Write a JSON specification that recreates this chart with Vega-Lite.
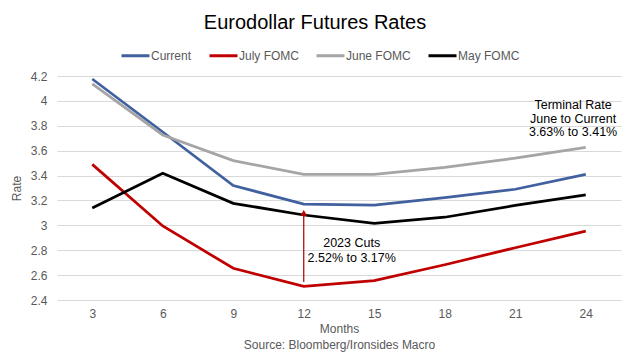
{
  "$schema": "https://vega.github.io/schema/vega-lite/v6.json",
  "width": 564,
  "height": 224,
  "autosize": "none",
  "padding": {"left": 57, "top": 76, "right": 8, "bottom": 62},
  "background": "white",
  "config": {"font": "Liberation Sans", "view": {"stroke": null}},
  "title": {"text": "Eurodollar Futures Rates", "fontSize": 20, "fontWeight": "normal", "color": "#000000", "anchor": "middle", "dx": -24, "offset": 7},
  "datasets": {
    "rates": [
      {"month": 3, "series": "Current", "rate": 4.176},
      {"month": 6, "series": "Current", "rate": 3.75},
      {"month": 9, "series": "Current", "rate": 3.32},
      {"month": 12, "series": "Current", "rate": 3.17},
      {"month": 15, "series": "Current", "rate": 3.163},
      {"month": 18, "series": "Current", "rate": 3.222},
      {"month": 21, "series": "Current", "rate": 3.29},
      {"month": 24, "series": "Current", "rate": 3.41},
      {"month": 3, "series": "July FOMC", "rate": 3.49},
      {"month": 6, "series": "July FOMC", "rate": 2.995},
      {"month": 9, "series": "July FOMC", "rate": 2.655},
      {"month": 12, "series": "July FOMC", "rate": 2.51},
      {"month": 15, "series": "July FOMC", "rate": 2.555},
      {"month": 18, "series": "July FOMC", "rate": 2.683},
      {"month": 21, "series": "July FOMC", "rate": 2.82},
      {"month": 24, "series": "July FOMC", "rate": 2.954},
      {"month": 3, "series": "June FOMC", "rate": 4.136},
      {"month": 6, "series": "June FOMC", "rate": 3.726},
      {"month": 9, "series": "June FOMC", "rate": 3.52},
      {"month": 12, "series": "June FOMC", "rate": 3.41},
      {"month": 15, "series": "June FOMC", "rate": 3.41},
      {"month": 18, "series": "June FOMC", "rate": 3.466},
      {"month": 21, "series": "June FOMC", "rate": 3.54},
      {"month": 24, "series": "June FOMC", "rate": 3.627},
      {"month": 3, "series": "May FOMC", "rate": 3.14},
      {"month": 6, "series": "May FOMC", "rate": 3.418},
      {"month": 9, "series": "May FOMC", "rate": 3.177},
      {"month": 12, "series": "May FOMC", "rate": 3.083},
      {"month": 15, "series": "May FOMC", "rate": 3.016},
      {"month": 18, "series": "May FOMC", "rate": 3.065},
      {"month": 21, "series": "May FOMC", "rate": 3.16},
      {"month": 24, "series": "May FOMC", "rate": 3.244}
    ],
    "arrow": [{"month": 12, "from": 2.545, "to": 3.1}],
    "head": [{"month": 12, "rate": 3.1}],
    "notes": [
      {"month": 14.04, "rate": 2.858, "label": "2023 Cuts"},
      {"month": 14.04, "rate": 2.737, "label": "2.52% to 3.17%"},
      {"month": 23.46, "rate": 3.967, "label": "Terminal Rate"},
      {"month": 23.46, "rate": 3.856, "label": "June to Current"},
      {"month": 23.46, "rate": 3.75, "label": "3.63% to 3.41%"}
    ]
  },
  "layer": [
    {
      "data": {"name": "rates"},
      "mark": {"type": "line", "strokeWidth": 2.75},
      "encoding": {
        "x": {
          "field": "month", "type": "quantitative",
          "scale": {"domain": [1.5, 25.5], "nice": false, "zero": false},
          "axis": {
            "values": [3, 6, 9, 12, 15, 18, 21, 24], "tickCount": 8,
            "grid": false, "domain": false, "ticks": false,
            "labelPadding": 8, "labelFontSize": 12, "labelColor": "#595959",
            "title": ["Months", "Source: Bloomberg/Ironsides Macro"],
            "titleFontSize": 12, "titleFontWeight": "normal", "titleColor": "#595959",
            "titlePadding": 4, "titleLineHeight": 16
          }
        },
        "y": {
          "field": "rate", "type": "quantitative",
          "scale": {"domain": [2.4, 4.2], "nice": false, "zero": false},
          "axis": {
            "values": [2.4, 2.6, 2.8, 3.0, 3.2, 3.4, 3.6, 3.8, 4.0, 4.2], "tickCount": 10,
            "format": "~g", "labelOverlap": false,
            "gridColor": "#d9d9d9", "gridWidth": 1,
            "domain": false, "ticks": false,
            "labelPadding": 10, "labelFontSize": 12, "labelColor": "#595959",
            "title": "Rate", "titleFontSize": 12, "titleFontWeight": "normal", "titleColor": "#595959",
            "titlePadding": 7
          }
        },
        "color": {
          "field": "series", "type": "nominal",
          "scale": {"domain": ["Current", "July FOMC", "June FOMC", "May FOMC"], "range": ["#41609f", "#c00000", "#a5a5a5", "#000000"]},
          "legend": {
            "orient": "none", "legendX": 63, "legendY": -36, "direction": "horizontal",
            "title": null, "symbolType": "stroke", "symbolSize": 784, "symbolStrokeWidth": 3,
            "labelFontSize": 12, "labelColor": "#595959", "labelOffset": 0, "columnPadding": 11
          }
        }
      }
    },
    {
      "data": {"name": "arrow"},
      "mark": {"type": "rule", "color": "#a00000", "strokeWidth": 1.2},
      "encoding": {
        "x": {"field": "month", "type": "quantitative"},
        "y": {"field": "from", "type": "quantitative"},
        "y2": {"field": "to"}
      }
    },
    {
      "data": {"name": "head"},
      "mark": {"type": "point", "shape": "triangle-up", "filled": true, "color": "#c00000", "size": 45, "opacity": 1},
      "encoding": {
        "x": {"field": "month", "type": "quantitative"},
        "y": {"field": "rate", "type": "quantitative"}
      }
    },
    {
      "data": {"name": "notes"},
      "mark": {"type": "text", "fontSize": 12.5, "color": "#000000", "align": "center", "baseline": "middle"},
      "encoding": {
        "x": {"field": "month", "type": "quantitative"},
        "y": {"field": "rate", "type": "quantitative"},
        "text": {"field": "label"}
      }
    }
  ]
}
